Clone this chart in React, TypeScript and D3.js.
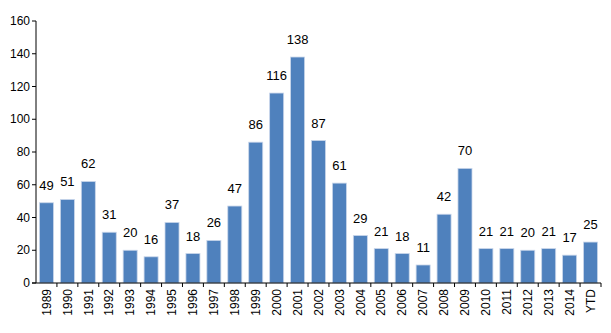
import React from "react";
import * as d3 from "d3";

const categories = ["1989","1990","1991","1992","1993","1994","1995","1996","1997","1998","1999","2000","2001","2002","2003","2004","2005","2006","2007","2008","2009","2010","2011","2012","2013","2014","YTD"];
const values = [49,51,62,31,20,16,37,18,26,47,86,116,138,87,61,29,21,18,11,42,70,21,21,20,21,17,25];
const yTicks = [0,20,40,60,80,100,120,140,160];

export default function App() {
  const W = 611, H = 333;
  const left = 36, right = 601, top = 21, bottom = 283;
  const x = d3.scaleBand<string>().domain(categories).range([left, right]).paddingInner(0.33).paddingOuter(0.165);
  const xb = d3.scaleBand<string>().domain(categories).range([left, right]);
  const y = d3.scaleLinear().domain([0, 160]).range([bottom, top]);
  const font = "'Liberation Sans', Arial, sans-serif";
  return (
    <svg width={W} height={H} style={{ position: "absolute", left: 0, top: 0 }} fontFamily={font}>
      <rect width={W} height={H} fill="#fff" />
      {categories.map((c, i) => (
        <rect key={c} x={x(c)!} y={y(values[i])} width={x.bandwidth()} height={bottom - y(values[i])}
          fill="#4F81BD" stroke="#c9d6ea" strokeWidth={0.8} />
      ))}
      <line x1={left} x2={left} y1={top} y2={bottom} stroke="#000" strokeWidth={1} />
      <line x1={left - 4} x2={right} y1={bottom} y2={bottom} stroke="#000" strokeWidth={1} />
      {yTicks.map(t => (
        <g key={t}>
          <line x1={left - 4} x2={left} y1={y(t)} y2={y(t)} stroke="#000" />
          <text x={left - 6} y={y(t)} dy="0.35em" textAnchor="end" fontSize={12} fill="#000">{t}</text>
        </g>
      ))}
      {categories.map((c, i) => (
        <line key={"t" + c} x1={xb(c)! + xb.bandwidth()} x2={xb(c)! + xb.bandwidth()} y1={bottom} y2={bottom + 4} stroke="#000" />
      ))}
      {categories.map((c, i) => {
        const cx = x(c)! + x.bandwidth() / 2;
        return (
          <text key={"l" + c} transform={`translate(${cx},${bottom + 6}) rotate(-90)`} textAnchor="end" dy="0.35em" fontSize={12} fill="#000">{c}</text>
        );
      })}
      {categories.map((c, i) => {
        const cx = x(c)! + x.bandwidth() / 2;
        return (
          <text key={"v" + c} x={cx} y={y(values[i]) - 13} textAnchor="middle" fontSize={13} fill="#000">{values[i]}</text>
        );
      })}
    </svg>
  );
}
